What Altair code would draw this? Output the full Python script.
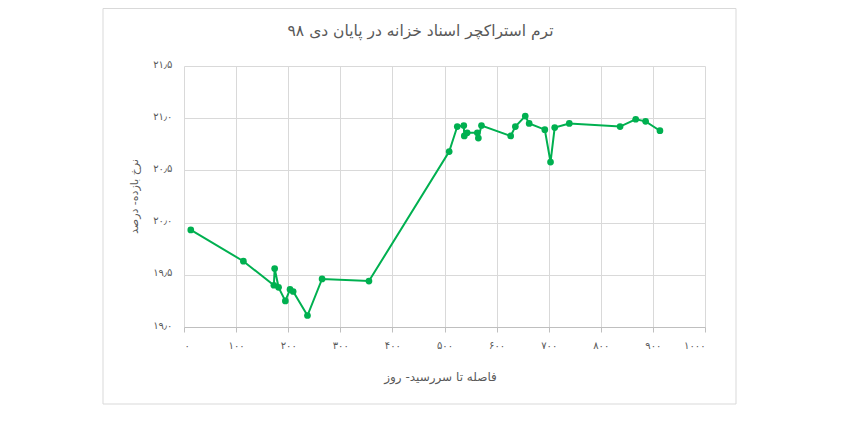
import json
import altair as alt
import pandas as pd

# Data
days = [13, 114, 172.5, 174, 181.5, 194.5, 203.5, 209.5, 237, 265, 355,
        509, 524.5, 537, 538, 543.5, 563, 565, 571, 627, 636, 655, 662.5,
        692.5, 703.5, 711.5, 739.5, 837, 867, 886, 913.5]
yields = [19.93, 19.63, 19.40, 19.56, 19.38, 19.25, 19.36, 19.34, 19.11, 19.46, 19.44,
          20.68, 20.92, 20.93, 20.83, 20.86, 20.86, 20.81, 20.93, 20.83, 20.92, 21.02, 20.95,
          20.89, 20.58, 20.91, 20.95, 20.92, 20.99, 20.97, 20.88]

x_ticks = [0, 100, 200, 300, 400, 500, 600, 700, 800, 900, 1000]
x_labels = ["۰", "۱۰۰", "۲۰۰", "۳۰۰", "۴۰۰", "۵۰۰", "۶۰۰", "۷۰۰", "۸۰۰", "۹۰۰", "۱۰۰۰"]
y_ticks = [19.0, 19.5, 20.0, 20.5, 21.0, 21.5]
y_labels = ["۱۹٫۰", "۱۹٫۵", "۲۰٫۰", "۲۰٫۵", "۲۱٫۰", "۲۱٫۵"]

title_text = "ترم استراکچر اسناد خزانه در پایان  دی ۹۸"
x_title = "فاصله تا سررسید- روز"
y_title = "نرخ بازده- درصد"

FONT = "DejaVu Sans"
GRAY = "#595959"
GREEN = "#00b050"

df = pd.DataFrame({"days": days, "yield": yields, "order": list(range(len(days)))})

x_expr = json.dumps(x_labels, ensure_ascii=False) + "[round(datum.value/100)]"
y_expr = json.dumps(y_labels, ensure_ascii=False) + "[round((datum.value-19)*2)]"

x_enc = alt.X(
    "days:Q",
    scale=alt.Scale(domain=[0, 1000], nice=False),
    axis=alt.Axis(
        values=x_ticks, labelExpr=x_expr, grid=True, gridColor="#d9d9d9",
        domainColor="#bfbfbf", tickColor="#bfbfbf", tickSize=5,
        labelPadding=8, labelFont=FONT, labelFontSize=10, labelColor=GRAY,
        title=x_title, titleFont=FONT, titleFontSize=12, titleFontWeight="normal",
        titleColor=GRAY, titleBaseline="middle", titleY=49, titleX=256,
    ),
)
y_enc = alt.Y(
    "yield:Q",
    scale=alt.Scale(domain=[19.0, 21.5], zero=False, nice=False),
    axis=alt.Axis(
        values=y_ticks, labelExpr=y_expr, grid=True, gridColor="#d9d9d9",
        domain=False, ticks=False, labelPadding=12, labelOffset=-2,
        labelFont=FONT, labelFontSize=10, labelColor=GRAY,
        title=y_title, titleFont=FONT, titleFontSize=11, titleFontWeight="normal",
        titleColor=GRAY, titleX=-50, titleY=130, titleAlign="center",
        titleBaseline="middle", titleAngle=270,
    ),
)

frame = alt.Chart(pd.DataFrame({"f": [0]})).mark_rect(
    filled=False, stroke="#d9d9d9", strokeWidth=1
).encode(
    x=alt.value(-81), x2=alt.value(552), y=alt.value(-57.5), y2=alt.value(338)
)

line = alt.Chart(df).mark_line(color=GREEN, strokeWidth=2).encode(
    x=x_enc, y=y_enc, order="order:Q"
)
points = alt.Chart(df).mark_circle(color=GREEN, size=45, opacity=1).encode(
    x="days:Q", y="yield:Q"
)

chart = alt.layer(frame, line, points).properties(
    width=521,
    height=261,
    autosize="none",
    padding={"left": 176, "top": 58, "right": 130, "bottom": 100},
    title=alt.TitleParams(
        text=title_text, anchor="middle", offset=-31, dx=-24,
        font=FONT, fontSize=15.5, fontWeight="normal", color=GRAY,
    ),
).configure_view(stroke="transparent")

chart.save("out.html", embed_options={"renderer": "svg", "actions": False})
